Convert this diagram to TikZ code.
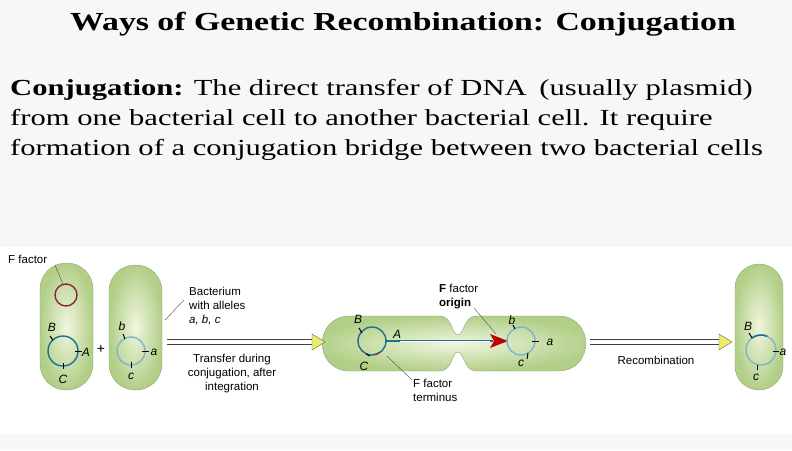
\documentclass[tikz,border=0pt]{standalone}
\usepackage{fontspec}
\setmainfont{Liberation Serif}
\setsansfont{Liberation Sans}
\usetikzlibrary{arrows.meta}
\definecolor{cellout}{HTML}{B2CF88}
\definecolor{cellin}{HTML}{F0F6E0}
\definecolor{dna}{HTML}{1F6E8C}
\definecolor{dnal}{HTML}{7FB3CF}
\definecolor{fred}{HTML}{8E2436}
\definecolor{ahead}{HTML}{EDEB6A}
\begin{document}
\begin{tikzpicture}[x=1pt,y=-1pt,
  cell/.style={draw=cellout!80!black,line width=0.4pt,inner color=cellin,outer color=cellout},
  lab/.style={font=\sffamily\fontsize{11.5}{14}\selectfont,inner sep=0pt},
  gl/.style={font=\sffamily\itshape\fontsize{12}{12}\selectfont,inner sep=0pt},
  ptr/.style={draw=black!70,line width=0.4pt},
  big/.style={double=white,double distance=3.5pt,draw=black!75,line width=0.8pt},
  ahd/.style={fill=ahead,draw=black!60,line width=0.4pt},
  tick/.style={line width=1pt,draw=black}]
\useasboundingbox (0,0) rectangle (792,450);
\fill[gray!6] (0,0) rectangle (792,450);
\fill[white] (0,247) rectangle (792,434);
\node[font=\bfseries\fontsize{26}{28}\selectfont] (title) at (403,24) {\scalebox{1.3}[1]{Ways of Genetic Recombination: Conjugation}};
\node[anchor=north west,align=left,inner sep=0pt,font=\fontsize{23}{30}\selectfont] (body) at (10,79)
 {\scalebox{1.33}[1]{\textbf{Conjugation:} The direct transfer of DNA\, (usually plasmid)}\\\scalebox{1.33}[1]{from one bacterial cell to another bacterial cell. It require}\\\scalebox{1.33}[1]{formation of a conjugation bridge between two bacterial cells}};
% cells
\path[cell,rounded corners=26pt] (40,263) rectangle (93,390);
\path[cell,rounded corners=26pt] (109,265) rectangle (162,390);
\path[cell,rounded corners=24pt] (735,264) rectangle (783,390);
\path[cell] (350,316) -- (440,316) .. controls (452,316) and (452,335) .. (458,335) .. controls (464,335) and (464,316) .. (476,316) -- (558,316) .. controls (595,316) and (595,371) .. (558,371) -- (476,371) .. controls (464,371) and (464,352) .. (458,352) .. controls (452,352) and (452,371) .. (440,371) -- (350,371) .. controls (313,371) and (313,316) .. (350,316) -- cycle;
% cell 1
\draw[fred,line width=1.4pt] (66,295) circle (11);
\draw[dna,line width=1.4pt] (63,351) circle (15);
\node[lab,anchor=west] (ff) at (8,259) {F factor};
\draw[ptr] (55,265) -- (63,284);
\draw[tick] (53,340)--(50,336); \node[gl] at (52,327) {B};
\draw[tick] (75,351)--(82,351); \node[gl] at (86,352) {A};
\draw[tick] (63,363)--(63,369); \node[gl] at (63,379) {C};
\node[lab,font=\sffamily\fontsize{14}{14}\selectfont] (plus) at (101,349) {+};
% cell 2
\draw[dnal,line width=1.4pt] (131,351) circle (14);
\draw[tick] (125,339)--(123,334); \node[gl] at (122,326) {b};
\draw[tick] (142,351)--(149,351); \node[gl] at (154,352) {a};
\draw[tick] (131,362)--(131,368); \node[gl] at (131,376) {c};
\node[lab,anchor=north west,align=left] (bact) at (189,287) {Bacterium\\with alleles\\\textit{a, b, c}};
\draw[ptr] (165,320) -- (184,300);
\coordinate (a1s) at (167,342); \coordinate (a1e) at (316,342);
\draw[big] (a1s) -- (a1e);
\path[ahd] (312,334) -- (325,342) -- (312,350) -- cycle;
\node[lab,align=center] (tr) at (232,374) {Transfer during\\conjugation, after\\integration};
% conjugating pair
\draw[dna,line width=1.4pt] (372,341) circle (14);
\draw[fred,line width=1pt] (380,352) arc[start angle=54,end angle=80,radius=14];
\draw[tick] (362,333)--(359,328); \node[gl] at (358,319) {B};
\draw[tick] (366,354)--(370,356); \node[gl] at (364,366) {C};
\node[gl] at (397,334) {A};
\draw[dna,line width=2.2pt] (385,341) -- (493,341);
\draw[white,line width=0.5pt] (400,341.5) -- (490,341.5);
\fill[red!75!black] (490,334) -- (508,341) -- (490,348) -- (494,341) -- cycle;
\draw[dnal,line width=1.4pt] (521,341) circle (14);
\draw[tick] (515,329)--(513,325); \node[gl] at (512,320) {b};
\draw[tick] (532,341)--(539,341); \node[gl] at (550,342) {a};
\draw[tick] (528,353)--(527,359); \node[gl] at (521,363) {c};
\node[lab,anchor=north west,align=left] (ori) at (439,284) {\textbf{F} factor\\\textbf{origin}};
\draw[ptr] (474,308) -- (496,334);
\node[lab,anchor=north west,align=left] (term) at (413,379) {F factor\\terminus};
\draw[ptr] (412,380) -- (387,356);
% recombination
\coordinate (a2s) at (590,342); \coordinate (a2e) at (722,342);
\draw[big] (a2s) -- (a2e);
\path[ahd] (719,334) -- (732,342) -- (719,350) -- cycle;
\node[lab] (rec) at (656,360) {Recombination};
% final cell
\draw[dnal,line width=1.4pt] (761,350) circle (15);
\draw[dna,line width=1.6pt] (752,338) arc[start angle=-127,end angle=-65,radius=15];
\draw[tick] (752,338)--(749,333); \node[gl] at (748,326) {B};
\draw[tick] (773,351)--(779,351); \node[gl] at (783,352) {a};
\draw[tick] (757,365)--(757,370); \node[gl] at (756,377) {c};
\end{tikzpicture}
\end{document}
